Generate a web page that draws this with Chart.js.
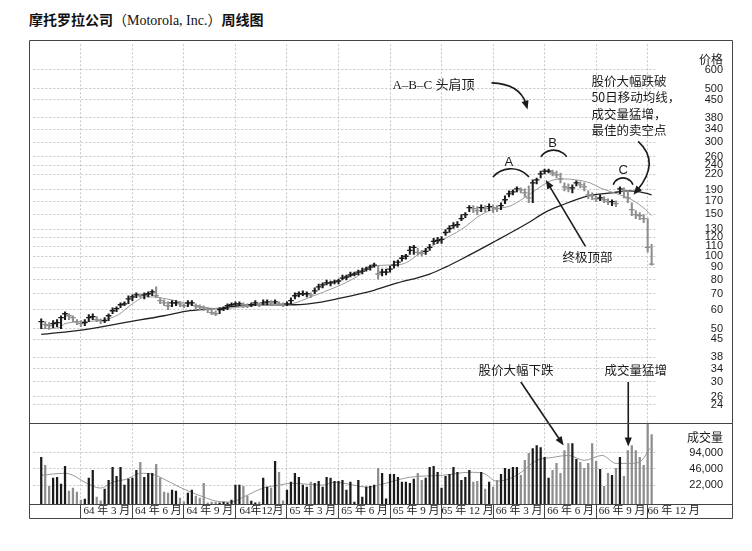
<!DOCTYPE html>
<html>
<head>
<meta charset="utf-8">
<script src="https://cdn.jsdelivr.net/npm/chart.js@4.4.1/dist/chart.umd.min.js"></script>
<style>
  body { margin: 0; background: #fff; width: 752px; height: 551px; position: relative; overflow: hidden; }
  #title { position: absolute; left: 29px; top: 9px; font-size: 14px; color: #111; white-space: nowrap;
           font-family: "Noto Sans CJK SC", sans-serif; }
  #title b { font-weight: 700; }
  #title span { font-family: "Liberation Serif", "Noto Sans CJK SC", serif; font-size: 14px; }
  #wrap { position: absolute; left: 28px; top: 39px; width: 706px; height: 482px; }
</style>
</head>
<body>
<div id="title"><b>摩托罗拉公司</b><span>（Motorola, Inc.）</span><b>周线图</b></div>
<div id="wrap"><canvas id="chart"></canvas></div>
<script>
// weekly bars, x = weeks counted from the start of Dec 1963
const firstWeek = 3;
const quarterTicks = [13, 26, 39, 52, 65, 78, 91, 104, 117, 130, 143, 156];
const quarterLabels = ['64 年 3 月', '64 年 6 月', '64 年 9 月', '64年12月', '65 年 3 月', '65 年 6 月',
  '65 年 9 月', '65 年 12 月', '66 年 3 月', '66 年 6 月', '66 年 9 月', '66 年 12 月'];
const priceTicks = [24, 26, 30, 34, 38, 45, 50, 60, 70, 80, 90, 100, 110, 120, 130, 150, 170, 190,
  220, 240, 260, 300, 340, 380, 450, 500, 600];
const priceTitleAt = 666;
const volumeTicks = [22000, 46000, 94000];
const volumeTitleAt = 182000;

const high = [
  54.9, 53.4, 52.9, 53.9, 54.4, 56.5, 58.7, 57.6, 56.5, 54.4,
  53.9, 54.4, 57.1, 57.6, 56.0, 54.9, 55.5, 57.6, 61.0, 61.6,
  64.0, 64.6, 68.5, 69.1, 70.4, 69.8, 70.4, 71.1, 72.5, 74.6,
  67.2, 65.9, 64.6, 65.3, 65.3, 64.6, 63.4, 65.3, 65.3, 63.4,
  62.8, 62.2, 61.0, 59.9, 59.3, 61.0, 61.6, 63.4, 64.0, 64.6,
  64.6, 64.0, 63.4, 64.0, 65.3, 64.0, 65.9, 65.9, 65.3, 65.9,
  64.6, 64.0, 64.6, 67.2, 70.4, 71.1, 71.8, 71.1, 70.4, 73.9,
  76.7, 77.5, 79.7, 78.9, 79.7, 80.4, 83.6, 83.6, 86.0, 86.0,
  87.6, 89.3, 90.2, 91.9, 93.7, 91.0, 88.5, 88.5, 91.0, 95.5,
  96.4, 101.1, 102.0, 110.1, 111.2, 108.0, 106.0, 108.0, 112.2, 118.8,
  120.0, 121.1, 129.5, 134.5, 138.4, 139.7, 149.4, 152.3, 162.8, 162.8,
  161.2, 164.3, 162.8, 165.9, 164.3, 162.8, 167.5, 179.0, 187.8, 189.6,
  195.0, 193.2, 191.4, 196.9, 208.5, 212.5, 227.1, 231.5, 231.5, 229.3,
  227.1, 222.9, 202.6, 200.7, 198.8, 206.6, 204.6, 202.6, 187.8, 184.2,
  179.0, 180.7, 177.3, 174.0, 172.3, 170.7, 195.0, 193.2, 187.8, 167.5,
  155.2, 152.3, 149.4, 143.8, 112.2
];
const low = [
  49.9, 49.9, 49.5, 50.4, 50.9, 49.9, 54.4, 54.4, 53.4, 51.9,
  50.9, 51.4, 53.4, 54.4, 53.4, 52.4, 52.9, 53.9, 57.6, 58.7,
  61.0, 62.2, 63.4, 65.3, 67.2, 67.2, 66.5, 67.8, 68.5, 67.2,
  63.4, 62.2, 59.9, 61.6, 62.2, 61.6, 61.0, 61.6, 62.2, 60.5,
  59.9, 59.3, 58.2, 57.1, 56.5, 57.6, 59.3, 59.9, 61.6, 62.2,
  62.2, 61.0, 61.0, 61.6, 62.2, 61.6, 62.8, 62.8, 62.2, 63.4,
  62.2, 61.6, 62.2, 63.4, 66.5, 67.8, 68.5, 67.8, 67.2, 69.8,
  72.5, 73.9, 76.0, 75.3, 76.7, 76.7, 79.7, 79.7, 82.0, 82.8,
  83.6, 84.4, 86.8, 87.6, 90.2, 80.4, 82.8, 83.6, 86.0, 89.3,
  91.0, 95.5, 97.3, 102.0, 102.0, 101.1, 100.1, 102.0, 106.0, 112.2,
  113.3, 113.3, 122.3, 125.8, 130.7, 132.0, 141.1, 145.2, 153.7, 152.3,
  149.4, 153.7, 153.7, 155.2, 152.3, 153.7, 156.7, 165.9, 177.3, 180.7,
  186.0, 184.2, 177.3, 167.5, 167.5, 200.7, 212.5, 220.8, 222.9, 216.6,
  212.5, 202.6, 187.8, 186.0, 184.2, 196.9, 193.2, 187.8, 174.0, 172.3,
  169.1, 170.7, 167.5, 164.3, 162.8, 161.2, 182.5, 175.6, 167.5, 148.0,
  143.8, 142.4, 138.4, 104.0, 91.9
];
const close = [
  53.4, 51.9, 51.4, 52.4, 52.9, 55.5, 57.6, 56.5, 55.5, 53.4,
  52.4, 52.9, 55.5, 56.0, 54.4, 53.9, 53.9, 56.5, 59.3, 60.5,
  62.8, 63.4, 66.5, 67.8, 69.1, 68.5, 69.1, 69.8, 71.1, 68.5,
  65.3, 64.0, 62.2, 64.0, 64.0, 63.4, 62.2, 64.0, 64.0, 62.2,
  61.6, 61.0, 59.9, 58.2, 57.6, 59.9, 60.5, 62.2, 62.8, 63.4,
  63.4, 62.8, 62.2, 62.8, 64.0, 62.8, 64.0, 64.6, 63.4, 64.6,
  63.4, 62.8, 63.4, 65.3, 68.5, 69.8, 69.8, 69.8, 69.1, 71.8,
  74.6, 76.0, 77.5, 77.5, 78.2, 78.9, 81.2, 82.0, 83.6, 84.4,
  86.0, 86.8, 88.5, 90.2, 91.9, 84.4, 86.0, 86.0, 88.5, 91.9,
  94.6, 98.2, 100.1, 106.0, 109.1, 104.0, 103.0, 105.0, 109.1, 115.5,
  116.6, 117.7, 125.8, 130.7, 134.5, 135.8, 143.8, 149.4, 159.7, 158.2,
  155.2, 159.7, 158.2, 161.2, 159.7, 158.2, 162.8, 172.3, 182.5, 186.0,
  191.4, 189.6, 184.2, 175.6, 202.6, 208.5, 220.8, 227.1, 227.1, 222.9,
  218.7, 210.5, 195.0, 193.2, 193.2, 202.6, 198.8, 195.0, 180.7, 179.0,
  174.0, 175.6, 172.3, 169.1, 169.1, 165.9, 191.4, 187.8, 175.6, 156.7,
  149.4, 148.0, 143.8, 109.1, 92.8
];
const volume = [
  75500, 53100, 21000, 30000, 31300, 23000, 50800, 16900, 19300, 16200,
  11400, 11900, 30000, 42600, 13000, 11000, 18400, 27400, 48600, 32700,
  48600, 22000, 28700, 30000, 42600, 60600, 31300, 37300, 37300, 55500,
  30000, 16200, 15500, 17600, 16900, 12400, 10500, 15500, 17600, 13600,
  12400, 24000, 10000, 10400, 10400, 10000, 10400, 10000, 11400, 22000,
  22000, 21000, 13600, 10900, 10000, 10400, 30000, 20100, 19300, 63300,
  39000, 11000, 17600, 25100, 37300, 31300, 22000, 20100, 25100, 24000,
  26200, 20100, 31300, 30000, 26200, 26200, 27400, 17600, 25100, 10400,
  27400, 13000, 20100, 21000, 22000, 46500, 37300, 12000, 35700, 35700,
  31300, 25100, 25100, 24000, 28700, 37300, 27400, 30000, 48600, 50800,
  39000, 19300, 32700, 35700, 48600, 39000, 27400, 31300, 42600, 25100,
  26200, 39000, 18400, 25100, 20100, 27400, 35700, 46500, 44500, 48600,
  48600, 34200, 66200, 90100, 112300, 128100, 117300, 75500, 30000, 42600,
  58000, 37300, 102800, 139900, 139900, 69100, 60600, 46500, 58000, 139900,
  63300, 44500, 21000, 37300, 34200, 46500, 75500, 32700, 102800, 128100,
  102800, 75500, 53100, 350000, 208000
];

// moving averages
const maFastWeeks = [3, 7.5, 9, 14, 19, 22.5, 26, 29.5, 33, 38, 43, 48, 54, 59, 66, 71, 77.5, 82.5, 86, 90,
  94, 99, 104, 109, 114, 117, 121.5, 126, 131.5, 135, 138, 141.5, 144, 149, 152, 155.5, 157];
const maFast = [49.9, 50.4, 52.4, 53.4, 54.4, 57.1, 63.4, 67.8, 67.2, 64.6, 61.6, 60.5, 61.6, 62.8, 63.4,
  67.8, 74.6, 82.0, 90.2, 91.9, 92.8, 104.0, 116.6, 129.5, 149.4, 156.7, 162.8, 180.7, 206.6, 210.5,
  208.5, 202.6, 193.2, 180.7, 172.3, 156.7, 148.0];
const maSlowWeeks = [3, 14, 24, 34, 40.5, 49, 56, 67, 74, 80, 86.5, 92, 101, 105, 109, 117, 126, 130, 134,
  141, 147, 151, 154, 157];
const maSlow = [47.2, 49.5, 52.9, 56.5, 59.3, 61.0, 62.8, 62.8, 64.6, 67.8, 71.8, 76.7, 84.4, 90.2, 97.3,
  114.4, 138.4, 152.3, 162.8, 179.0, 184.2, 187.8, 186.0, 180.7];
const volMaWeeks = [3, 9, 11, 14, 18, 21, 24.5, 28, 31, 35.5, 39, 44, 47, 51, 54, 59, 63, 66, 74, 77, 85.5,
  88, 96, 104.5, 111, 114.5, 118, 123, 128, 132, 136, 140, 144.5, 148, 152, 154.5, 156.5];
const volMa = [34200, 37300, 34200, 25100, 19300, 25100, 28700, 37300, 35700, 25100, 18400, 13000, 10900,
  10400, 13000, 19300, 22000, 24000, 22000, 25100, 20100, 22000, 31300, 34200, 39000, 37300, 26200,
  34200, 66200, 75500, 82500, 66200, 82500, 58000, 58000, 66200, 112300];

const ink = '#1b1b1b';
const upColor = '#1b1b1b';
const downColor = '#8e8e8e';
const gridColor = '#b9b9b9';
const weeks = close.map((_, i) => firstWeek + i);
const barColors = close.map((c, i) => (i === 0 || c >= close[i - 1]) ? upColor : downColor);

const sansFont = '"Liberation Sans", Arial, sans-serif';
const cjkFont = '"Noto Sans CJK SC", sans-serif';
const serifFont = '"Liberation Serif", "Noto Sans CJK SC", serif';

// annotations, placed in data units (week, price / volume)
const notes = {
  headShoulders: { text: 'A–B–C 头肩顶', w: 112.3, p: 515 },
  hsArrow: { from: [116.6, 530], ctrl: [123.8, 525], to: [125.7, 410] },
  shoulders: [
    { text: 'A', w: 121, p: 247, arcW: 121.5, arcP: 184.2, r: 24, half: 0.85 },
    { text: 'B', w: 132, p: 297, arcW: 132.3, arcP: 238, r: 16, half: 0.95 },
    { text: 'C', w: 149.8, p: 229, arcW: 149.8, arcP: 192, r: 10.6, half: 1.2 }
  ],
  top: { text: '终极顶部', w: 140.8, p: 99.2, from: [140.3, 110], to: [130.3, 208.5] },
  sell: { lines: ['股价大幅跌破', '50日移动均线，', '成交量猛增，', '最佳的卖空点'], w: 141.8, p: 540,
          from: [153.6, 302], ctrl: [159.3, 247.5], to: [152.4, 180.7] },
  drop: { text: '股价大幅下跌', w: 122.8, p: 33.5, from: [124, 29.9], toVol: [134.8, 128100] },
  surge: { text: '成交量猛增', w: 153, p: 33.5, from: [151.1, 29.9], toVol: [151.1, 122600] }
};

function arrowHead(ctx, x, y, angle) {
  const len = 9, half = 3.6;
  ctx.beginPath();
  ctx.moveTo(x, y);
  ctx.lineTo(x - len * Math.cos(angle) + half * Math.sin(angle), y - len * Math.sin(angle) - half * Math.cos(angle));
  ctx.lineTo(x - len * Math.cos(angle) - half * Math.sin(angle), y - len * Math.sin(angle) + half * Math.cos(angle));
  ctx.closePath();
  ctx.fill();
}

function straightArrow(ctx, x1, y1, x2, y2) {
  const a = Math.atan2(y2 - y1, x2 - x1);
  ctx.beginPath();
  ctx.moveTo(x1, y1);
  ctx.lineTo(x2 - 6 * Math.cos(a), y2 - 6 * Math.sin(a));
  ctx.stroke();
  arrowHead(ctx, x2, y2, a);
}

function curvedArrow(ctx, x1, y1, cx, cy, x2, y2) {
  const a = Math.atan2(y2 - cy, x2 - cx);
  ctx.beginPath();
  ctx.moveTo(x1, y1);
  ctx.quadraticCurveTo(cx, cy, x2 - 6 * Math.cos(a), y2 - 6 * Math.sin(a));
  ctx.stroke();
  arrowHead(ctx, x2, y2, a);
}

const notesPlugin = {
  id: 'notes',
  afterDatasetsDraw(chart) {
    const { ctx, scales: { x, y, yv } } = chart;
    const X = w => x.getPixelForValue(w);
    const P = p => y.getPixelForValue(p);
    const V = v => yv.getPixelForValue(v);
    ctx.save();
    ctx.fillStyle = ink;
    ctx.strokeStyle = ink;
    ctx.lineWidth = 1.6;
    ctx.textBaseline = 'middle';

    const hs = notes.headShoulders;
    ctx.font = '13px ' + serifFont;
    ctx.textAlign = 'right';
    ctx.fillText(hs.text, X(hs.w), P(hs.p));
    const ha = notes.hsArrow;
    curvedArrow(ctx, X(ha.from[0]), P(ha.from[1]), X(ha.ctrl[0]), P(ha.ctrl[1]), X(ha.to[0]), P(ha.to[1]));

    ctx.textAlign = 'center';
    ctx.font = '13px ' + sansFont;
    notes.shoulders.forEach(s => {
      ctx.fillText(s.text, X(s.w), P(s.p));
      ctx.beginPath();
      ctx.arc(X(s.arcW), P(s.arcP), s.r, -Math.PI / 2 - s.half, -Math.PI / 2 + s.half);
      ctx.stroke();
    });

    ctx.font = '12.5px ' + cjkFont;
    const t = notes.top;
    ctx.fillText(t.text, X(t.w), P(t.p));
    straightArrow(ctx, X(t.from[0]), P(t.from[1]), X(t.to[0]), P(t.to[1]));

    const s = notes.sell;
    ctx.textAlign = 'left';
    s.lines.forEach((line, i) => ctx.fillText(line, X(s.w), P(s.p) + i * 16.5));
    curvedArrow(ctx, X(s.from[0]), P(s.from[1]), X(s.ctrl[0]), P(s.ctrl[1]), X(s.to[0]), P(s.to[1]));

    ctx.textAlign = 'center';
    [notes.drop, notes.surge].forEach(n => {
      ctx.fillText(n.text, X(n.w), P(n.p));
      straightArrow(ctx, X(n.from[0]), P(n.from[1]), X(n.toVol[0]), V(n.toVol[1]));
    });
    ctx.restore();
  }
};

// outer box, panel divider and the date row
const framePlugin = {
  id: 'frame',
  afterDraw(chart) {
    const { ctx, scales: { x, yv } } = chart;
    const left = 1.5, right = chart.width - 1.5, top = 1.5;
    const bottom = Math.round(x.bottom) - 0.5;
    ctx.save();
    ctx.strokeStyle = '#444';
    ctx.lineWidth = 1;
    ctx.beginPath();
    ctx.moveTo(left, top); ctx.lineTo(right, top);
    ctx.lineTo(right, bottom); ctx.lineTo(left, bottom); ctx.closePath();
    const divider = Math.round(yv.top) + 0.5;
    ctx.moveTo(left, divider); ctx.lineTo(right, divider);
    const dateRow = Math.round(x.top) + 0.5;
    ctx.moveTo(left, dateRow); ctx.lineTo(right, dateRow);
    ctx.stroke();
    ctx.restore();
  }
};

const axisFont = ctx => {
  const v = ctx.tick && ctx.tick.value;
  if (v === priceTitleAt || v === volumeTitleAt) return { family: cjkFont, size: 12 };
  return { family: sansFont, size: 11 };
};

// keep the layout from reserving room for half-labels at the panel edges
const fitRightAxis = axis => { axis.width = 67; axis.paddingTop = 0; axis.paddingBottom = 0; };

new Chart(document.getElementById('chart'), {
  type: 'line',
  data: {
    datasets: [
      {
        type: 'scatter', yAxisID: 'y',
        data: weeks.map((w, i) => ({ x: w, y: close[i] })),
        pointStyle: 'line', pointRadius: 2.8, pointBorderWidth: 1.3,
        pointBorderColor: barColors, pointBackgroundColor: barColors
      },
      {
        type: 'bar', yAxisID: 'y', grouped: false,
        data: weeks.map((w, i) => ({ x: w, y: [low[i], high[i]] })),
        backgroundColor: barColors, barThickness: 1.4
      },
      {
        type: 'bar', yAxisID: 'yv', grouped: false,
        data: weeks.map((w, i) => ({ x: w, y: volume[i] })),
        backgroundColor: barColors, barThickness: 1.6
      },
      {
        type: 'line', yAxisID: 'yv',
        data: volMaWeeks.map((w, i) => ({ x: w, y: volMa[i] })),
        borderColor: '#9a9a9a', borderWidth: 1, pointRadius: 0, cubicInterpolationMode: 'monotone'
      },
      {
        type: 'line', yAxisID: 'y',
        data: maFastWeeks.map((w, i) => ({ x: w, y: maFast[i] })),
        borderColor: '#9a9a9a', borderWidth: 1, pointRadius: 0, cubicInterpolationMode: 'monotone'
      },
      {
        type: 'line', yAxisID: 'y',
        data: maSlowWeeks.map((w, i) => ({ x: w, y: maSlow[i] })),
        borderColor: '#222', borderWidth: 1.3, pointRadius: 0, cubicInterpolationMode: 'monotone'
      }
    ]
  },
  options: {
    responsive: true,
    maintainAspectRatio: false,
    animation: false,
    layout: { padding: { left: 1, right: 11, top: 1, bottom: 2 } },
    plugins: { legend: { display: false }, tooltip: { enabled: false } },
    scales: {
      x: {
        type: 'linear', min: 1, max: 158.1, offset: false,
        afterBuildTicks: axis => { axis.ticks = quarterTicks.map(v => ({ value: v })); },
        afterFit: axis => { axis.height = 15; axis.paddingLeft = 0; axis.paddingRight = 0; },
        grid: { offset: false, color: gridColor, lineWidth: 0.8, tickLength: 15, tickColor: '#444', tickWidth: 1, tickBorderDash: [] },
        border: { display: false, dash: [2, 2] },
        ticks: {
          autoSkip: false, maxRotation: 0, minRotation: 0, padding: -14, labelOffset: 26,
          color: ink, font: { family: serifFont, size: 11 },
          callback: v => quarterLabels[quarterTicks.indexOf(v)] || ''
        }
      },
      y: {
        type: 'logarithmic', position: 'right', stack: 'panels', stackWeight: 382,
        min: 20.2, max: 768,
        afterBuildTicks: axis => { axis.ticks = priceTicks.concat([priceTitleAt]).map(v => ({ value: v })); },
        afterFit: fitRightAxis,
        grid: {
          color: ctx => (ctx.tick && ctx.tick.value === priceTitleAt) ? 'rgba(0,0,0,0)' : gridColor,
          lineWidth: 0.8, drawTicks: false
        },
        border: { display: false, dash: [2, 2] },
        ticks: {
          autoSkip: false, crossAlign: 'far', color: ink, font: axisFont,
          callback: v => v === priceTitleAt ? '价格' : String(v)
        }
      },
      yv: {
        type: 'logarithmic', position: 'right', stack: 'panels', stackWeight: 82,
        min: 9530, max: 352000,
        afterBuildTicks: axis => { axis.ticks = volumeTicks.concat([volumeTitleAt]).map(v => ({ value: v })); },
        afterFit: fitRightAxis,
        grid: {
          color: ctx => (ctx.tick && ctx.tick.value === volumeTitleAt) ? 'rgba(0,0,0,0)' : gridColor,
          lineWidth: 0.8, drawTicks: false
        },
        border: { display: false, dash: [2, 2] },
        ticks: {
          autoSkip: false, crossAlign: 'far', color: ink, font: axisFont,
          callback: v => v === volumeTitleAt ? '成交量' : v.toLocaleString('en-US')
        }
      }
    }
  },
  plugins: [notesPlugin, framePlugin]
});
</script>
</body>
</html>
